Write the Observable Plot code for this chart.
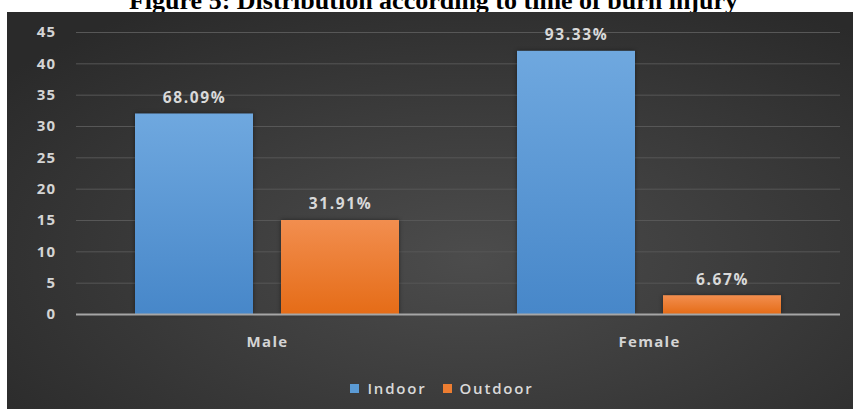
<!DOCTYPE html>
<html>
<head>
<meta charset="utf-8">
<script src="https://cdn.jsdelivr.net/npm/d3@7"></script>
<script src="https://cdn.jsdelivr.net/npm/@observablehq/plot@0.6"></script>
<style>
  html, body { margin: 0; padding: 0; background: #fff; width: 853px; height: 409px; overflow: hidden; }
  #titlebox { position: absolute; left: 0; top: 0; width: 853px; height: 12px; overflow: hidden; }
  #title { position: absolute; left: 7px; width: 853px; top: -12px; text-align: center;
           font: bold 26px "Liberation Serif", "Times New Roman", serif; line-height: 26px; color: #000; white-space: nowrap; }
  #panel { position: absolute; left: 7px; top: 12px; width: 846px; height: 397px; overflow: hidden;
           background: radial-gradient(ellipse 70% 75% at 55% 62%, #4c4c4c 0%, #3d3d3d 45%, #2a2a2a 100%); }
  #panel svg { background: transparent; position: absolute; left: 0; top: 0; }
  #panel svg text { font-family: "Open Sans", sans-serif; }
  .lbl text { letter-spacing: 1.6px; }
  #legend { position: absolute; left: 12px; width: 846px; top: 366px; text-align: center;
            font: 600 15px "Open Sans", sans-serif; color: #d9d9d9; letter-spacing: 1.8px; white-space: nowrap; }
  #legend span.sw { display: inline-block; width: 9px; height: 9px; margin-right: 8px; vertical-align: 1px; }
  #legend span.item { margin: 0 8px; }
</style>
</head>
<body>
<div id="titlebox"><div id="title">Figure 5: Distribution according to time of burn injury</div></div>
<div id="panel"></div>
<script>
const genders = ["Male", "Female"];
const series = ["Indoor", "Outdoor"];
const indoorValues = [32, 42];
const outdoorValues = [15, 3];
const indoorLabels = ["68.09%", "93.33%"];
const outdoorLabels = ["31.91%", "6.67%"];
const yTicks = [0, 5, 10, 15, 20, 25, 30, 35, 40, 45];
const seriesColors = ["#5b9bd5", "#ed7d31"];

const indoorRows = genders.map((g, i) => ({gender: g, type: "Indoor", value: indoorValues[i], label: indoorLabels[i]}));
const outdoorRows = genders.map((g, i) => ({gender: g, type: "Outdoor", value: outdoorValues[i], label: outdoorLabels[i]}));
const rows = indoorRows.concat(outdoorRows);

const W = 846, H = 345;
const chart = Plot.plot({
  width: W,
  height: H,
  marginLeft: 69,
  marginRight: 13,
  marginTop: 20,
  marginBottom: 43,
  style: {background: "transparent", color: "#d4d4d4", fontSize: "15px"},
  fx: {domain: genders, paddingInner: 0, paddingOuter: 0, axis: "bottom", label: null, tickSize: 0, tickPadding: 22},
  x: {domain: series, paddingInner: 0.192, paddingOuter: 0.404, axis: null},
  y: {domain: [0, 45], ticks: yTicks, label: null, tickSize: 0, tickPadding: 20},
  marks: [
    Plot.ruleY(yTicks.filter(d => d > 0), {stroke: "#575757", strokeWidth: 1}),
    Plot.barY(indoorRows, {fx: "gender", x: "type", y: "value", fill: "url(#gIndoor)", className: "bar"}),
    Plot.barY(outdoorRows, {fx: "gender", x: "type", y: "value", fill: "url(#gOutdoor)", className: "bar"}),
    Plot.ruleY([0], {stroke: "#a6a6a6", strokeWidth: 2}),
    Plot.text(rows, {fx: "gender", x: "type", y: "value", text: "label", dy: -16, fill: "#d9d9d9",
                     fontWeight: "bold", fontSize: 15.5, className: "lbl"})
  ]
});

// gradients for bars
const svg = d3.select(chart);
const defs = svg.insert("defs", ":first-child");
function grad(id, top, bottom) {
  const g = defs.append("linearGradient").attr("id", id).attr("x1", 0).attr("y1", 0).attr("x2", 0).attr("y2", 1);
  g.append("stop").attr("offset", "0%").attr("stop-color", top);
  g.append("stop").attr("offset", "100%").attr("stop-color", bottom);
}
grad("gIndoor", "#6fa8df", "#4787c9");
grad("gOutdoor", "#f28e4f", "#e56c17");
svg.selectAll("g[aria-label='fx-axis tick label'] text, g[aria-label='y-axis tick label'] text")
   .style("font-weight", "bold").style("letter-spacing", "1.3px");
svg.selectAll(".bar rect").style("filter", "drop-shadow(0px 0px 2px rgba(0,0,0,0.45))");

const panel = document.getElementById("panel");
panel.appendChild(chart);

const legend = document.createElement("div");
legend.id = "legend";
series.forEach((s, i) => {
  const item = document.createElement("span");
  item.className = "item";
  const sw = document.createElement("span");
  sw.className = "sw";
  sw.style.background = seriesColors[i];
  item.appendChild(sw);
  item.appendChild(document.createTextNode(s));
  legend.appendChild(item);
});
panel.appendChild(legend);
</script>
</body>
</html>
